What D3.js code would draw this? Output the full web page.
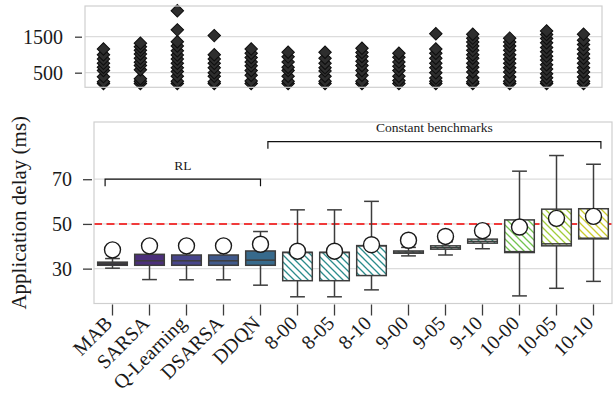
<!DOCTYPE html>
<html>
<head>
<meta charset="utf-8">
<script src="https://cdn.jsdelivr.net/npm/d3@7"></script>
<style>
  body { margin: 0; background: #fff; }
  svg text { font-family: "Liberation Serif", "Times New Roman", serif; fill: #1a1a1a; }
</style>
</head>
<body>
<div id="chart"></div>
<script>
// categories and box statistics (ms)
const categories = ["MAB", "SARSA", "Q-Learning", "DSARSA", "DDQN", "8-00", "8-05", "8-10",
                    "9-00", "9-05", "9-10", "10-00", "10-05", "10-10"];
const whiskerLow  = [30.2, 25.1, 25.0, 25.0, 22.6, 17.4, 17.4, 20.5, 35.7, 36.1, 38.9, 17.8, 21.2, 24.3];
const q1          = [31.5, 31.5, 31.5, 31.5, 31.5, 24.6, 24.6, 26.9, 36.9, 38.7, 41.4, 37.2, 40.2, 43.3];
const medians     = [32.2, 33.5, 33.5, 33.5, 33.8, 37.2, 37.2, 40.2, 37.4, 39.4, 42.2, 37.6, 41.1, 43.6];
const q3          = [32.9, 36.4, 36.1, 36.1, 37.9, 37.3, 37.3, 40.3, 37.9, 40.2, 43.2, 51.8, 56.6, 56.8];
const whiskerHigh = [34.5, 38.5, 38.5, 38.5, 46.6, 56.3, 56.3, 60.1, 39.5, 42.0, 45.0, 73.6, 80.6, 76.7];
const means       = [38.4, 40.2, 40.2, 40.2, 40.9, 37.8, 37.8, 40.7, 42.7, 44.4, 47.0, 48.6, 52.5, 53.4];
const threshold = 50;

// outliers shown in the upper panel (ms)
const outliers = [
  [200, 250, 390, 560, 650, 760, 880, 1000, 1160],
  [200, 260, 330, 580, 700, 790, 900, 1020, 1120, 1220, 1320],
  [200, 260, 400, 530, 640, 760, 880, 990, 1110, 1240, 1360, 1690, 2220],
  [200, 250, 400, 500, 640, 760, 880, 1000, 1530],
  [200, 270, 430, 560, 690, 800, 920, 1040, 1160],
  [200, 260, 400, 560, 650, 800, 940, 1070],
  [200, 260, 400, 550, 640, 760, 900, 1070],
  [200, 260, 430, 560, 700, 820, 950, 1060, 1180],
  [200, 280, 400, 560, 680, 800, 930, 1040],
  [200, 260, 350, 500, 640, 760, 900, 1040, 1160, 1580],
  [200, 250, 360, 520, 650, 760, 900, 1000, 1120, 1240, 1350, 1460, 1570],
  [200, 260, 380, 520, 640, 760, 880, 1000, 1120, 1240, 1350, 1460],
  [200, 250, 360, 470, 600, 720, 850, 960, 1080, 1200, 1330, 1450, 1560, 1660],
  [200, 260, 380, 520, 640, 760, 900, 1020, 1150, 1280, 1400, 1570]
];
const topTicks = [500, 1500];
const bottomTicks = [30, 50, 70];

const groupLabels = ["RL", "Constant benchmarks"];
const groupFirst = [0, 5];
const groupLast = [4, 13];
const groupLevel = [70, 86.8];

const boxColors = ["#2d1e3e", "#4b2f7b", "#47458b", "#40598b", "#376a8c",
                   "#2b8c8c", "#2b8c8c", "#2b8c8c", "#3a9e80", "#3a9e80", "#3a9e80",
                   "#72c34e", "#a2cd3a", "#cccc2e"];
const hatched = [false, false, false, false, false, true, true, true, true, true, true, true, true, true];

const W = 613, H = 395;
const svg = d3.select("#chart").append("svg").attr("width", W).attr("height", H);
const defs = svg.append("defs");

const edge = "#3d3d3d", frame = "#cfcfcf", grid = "#dcdcdc";
const serif = "'Liberation Serif', 'Times New Roman', serif";

// ---------- upper panel (outliers) ----------
const upper = {left: 85, right: 602, top: 6, bottom: 87.3};
const xTop = d3.scaleBand().domain(categories).range([upper.left, upper.right]);
const yTop = d3.scaleLinear().domain([94, 2353]).range([upper.bottom, upper.top]);

const gTop = svg.append("g");
gTop.selectAll(".grid").data(topTicks).enter().append("line")
  .attr("x1", upper.left).attr("x2", upper.right)
  .attr("y1", d => yTop(d)).attr("y2", d => yTop(d))
  .attr("stroke", grid).attr("stroke-width", 1.2);

categories.forEach((c, i) => {
  gTop.selectAll(".o" + i).data(outliers[i]).enter().append("path")
    .attr("d", d3.symbol(d3.symbolSquare, 78))
    .attr("transform", d => `translate(${xTop(c) + xTop.bandwidth() / 2},${yTop(d)}) rotate(45)`)
    .attr("fill", "#2e2e2e").attr("stroke", "#0d0d0d").attr("stroke-width", 1);
});

gTop.append("rect")
  .attr("x", upper.left).attr("y", upper.top)
  .attr("width", upper.right - upper.left).attr("height", upper.bottom - upper.top)
  .attr("fill", "none").attr("stroke", frame).attr("stroke-width", 1.2);

const axTop = svg.append("g").attr("transform", `translate(${upper.left - 3},0)`)
  .call(d3.axisLeft(yTop).tickValues(topTicks).tickFormat(d3.format("d"))
    .tickSize(7).tickPadding(12).tickSizeOuter(0));
axTop.select(".domain").remove();
axTop.selectAll("line").attr("stroke", edge).attr("stroke-width", 1.3);
axTop.selectAll("text").attr("font-size", 20).style("font-family", serif);

// ---------- lower panel (boxes) ----------
const lower = {left: 94, right: 612, top: 122, bottom: 303.5};
const x = d3.scaleBand().domain(categories).range([lower.left, lower.right]);
const y = d3.scaleLinear().domain([14.4, 95.6]).range([lower.bottom, lower.top]);
const cx = i => x(categories[i]) + x.bandwidth() / 2;
const bw = x.bandwidth() * 0.8;

const g = svg.append("g");
g.selectAll(".grid").data(bottomTicks).enter().append("line")
  .attr("x1", lower.left).attr("x2", lower.right)
  .attr("y1", d => y(d)).attr("y2", d => y(d))
  .attr("stroke", grid).attr("stroke-width", 1.2);

g.append("line")
  .attr("x1", lower.left).attr("x2", lower.right)
  .attr("y1", y(threshold)).attr("y2", y(threshold))
  .attr("stroke", "#f03a3a").attr("stroke-width", 2).attr("stroke-dasharray", "8,4.5");

// hatch patterns
categories.forEach((c, i) => {
  if (!hatched[i]) return;
  const p = defs.append("pattern").attr("id", "h" + i)
    .attr("patternUnits", "userSpaceOnUse").attr("width", 7).attr("height", 7);
  p.append("rect").attr("width", 7).attr("height", 7).attr("fill", "#fff");
  p.append("path").attr("d", "M-1,-1 L8,8 M-1,6 L1,8 M6,-1 L8,1")
    .attr("stroke", boxColors[i]).attr("stroke-width", 1.3);
});

const idx = d3.range(categories.length);

// whiskers
g.selectAll(".wl").data(idx).enter().append("line")
  .attr("x1", cx).attr("x2", cx)
  .attr("y1", i => y(whiskerLow[i])).attr("y2", i => y(q1[i]))
  .attr("stroke", edge).attr("stroke-width", 1.5);
g.selectAll(".wh").data(idx).enter().append("line")
  .attr("x1", cx).attr("x2", cx)
  .attr("y1", i => y(whiskerHigh[i])).attr("y2", i => y(q3[i]))
  .attr("stroke", edge).attr("stroke-width", 1.5);
[whiskerLow, whiskerHigh].forEach(arr => {
  g.selectAll(null).data(idx).enter().append("line")
    .attr("x1", i => cx(i) - bw / 4).attr("x2", i => cx(i) + bw / 4)
    .attr("y1", i => y(arr[i])).attr("y2", i => y(arr[i]))
    .attr("stroke", edge).attr("stroke-width", 1.5);
});

// boxes
g.selectAll(".box").data(idx).enter().append("rect")
  .attr("x", i => cx(i) - bw / 2).attr("width", bw)
  .attr("y", i => y(q3[i])).attr("height", i => y(q1[i]) - y(q3[i]))
  .attr("fill", i => hatched[i] ? `url(#h${i})` : boxColors[i])
  .attr("stroke", edge).attr("stroke-width", 1.5);

g.selectAll(".med").data(idx).enter().append("line")
  .attr("x1", i => cx(i) - bw / 2).attr("x2", i => cx(i) + bw / 2)
  .attr("y1", i => y(medians[i])).attr("y2", i => y(medians[i]))
  .attr("stroke", edge).attr("stroke-width", 1.5);

// means
g.selectAll(".mean").data(idx).enter().append("circle")
  .attr("cx", cx).attr("cy", i => y(means[i])).attr("r", 8)
  .attr("fill", "#fff").attr("stroke", "#1a1a1a").attr("stroke-width", 1.4);

// group brackets
groupLabels.forEach((lab, k) => {
  const x0 = k === 0 ? cx(groupFirst[k]) - x.step() * 0.2 : cx(groupFirst[k]) - x.step() * 0.8;
  const x1 = k === 0 ? cx(groupLast[k]) : cx(groupLast[k]) + x.step() * 0.2;
  const yl = y(groupLevel[k]);
  g.append("path")
    .attr("d", `M${x0},${yl + 7} L${x0},${yl} L${x1},${yl} L${x1},${yl + 7}`)
    .attr("fill", "none").attr("stroke", "#111").attr("stroke-width", 1.2);
  g.append("text").attr("x", (x0 + x1) / 2).attr("y", yl - 9.5)
    .attr("text-anchor", "middle").attr("font-size", 13.5).style("font-family", serif).text(lab);
});

g.append("rect")
  .attr("x", lower.left).attr("y", lower.top)
  .attr("width", lower.right - lower.left).attr("height", lower.bottom - lower.top)
  .attr("fill", "none").attr("stroke", frame).attr("stroke-width", 1.2);

const axY = svg.append("g").attr("transform", `translate(${lower.left - 2},0)`)
  .call(d3.axisLeft(y).tickValues(bottomTicks).tickSize(9).tickPadding(11).tickSizeOuter(0));
axY.select(".domain").remove();
axY.selectAll("line").attr("stroke", edge).attr("stroke-width", 1.3);
axY.selectAll("text").attr("font-size", 20).style("font-family", serif);

const axX = svg.append("g").attr("transform", `translate(0,${lower.bottom + 1})`)
  .call(d3.axisBottom(x).tickSize(11).tickSizeOuter(0));
axX.select(".domain").remove();
axX.selectAll("line").attr("stroke", edge).attr("stroke-width", 1.3);
axX.selectAll("text")
  .attr("font-size", 20).style("font-family", serif)
  .attr("text-anchor", "end")
  .attr("y", 0).attr("dy", 0)
  .attr("transform", "translate(1,20) rotate(-45)");

svg.append("text")
  .attr("transform", `translate(26,${(lower.top + lower.bottom) / 2}) rotate(-90)`)
  .attr("text-anchor", "middle").attr("font-size", 21).style("font-family", serif)
  .text("Application delay (ms)");
</script>
</body>
</html>
